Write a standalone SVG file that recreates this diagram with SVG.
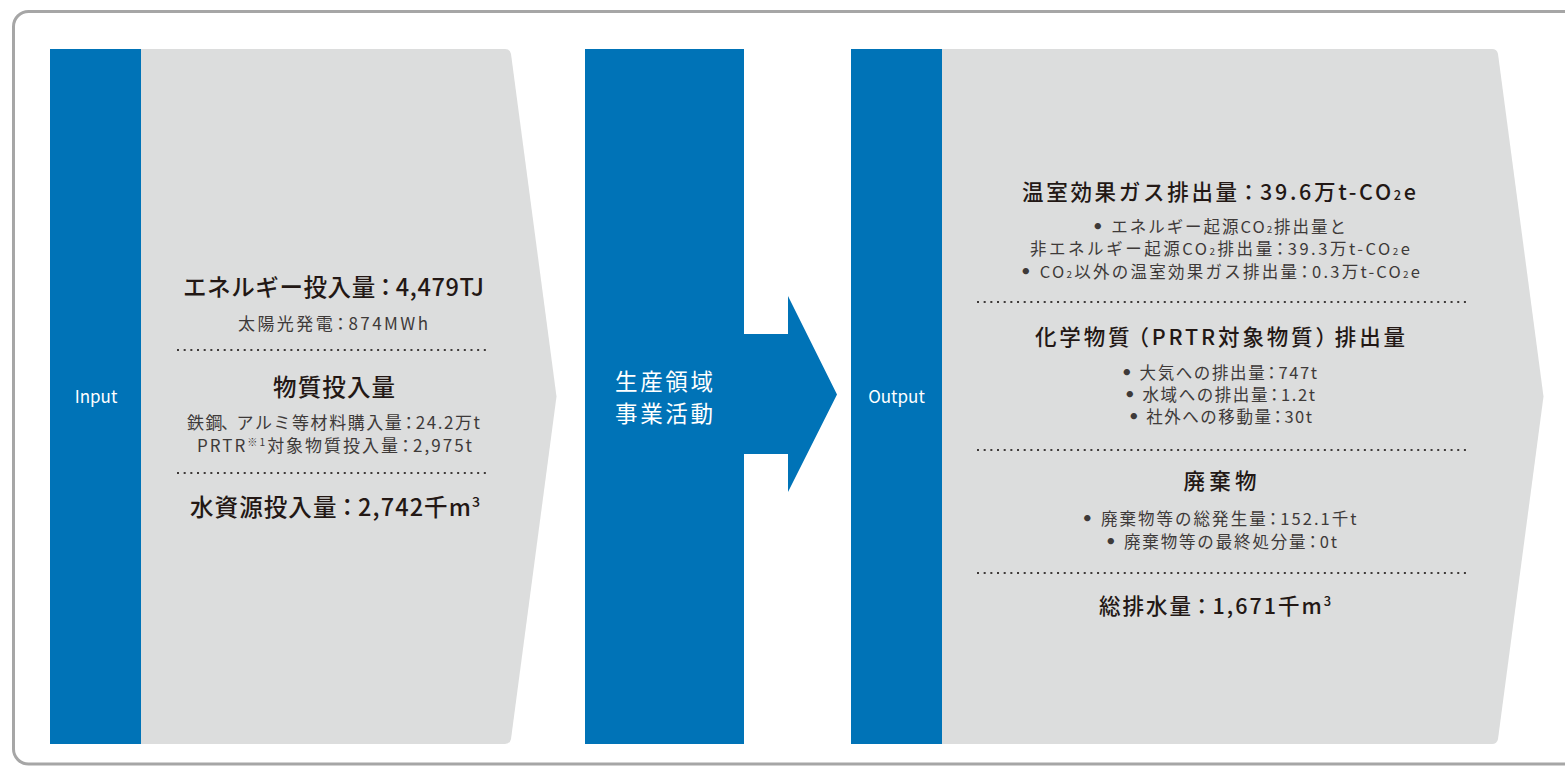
<svg xmlns="http://www.w3.org/2000/svg" width="1565" height="776" viewBox="0 0 1565 776">
<style>
  text { font-family: "Noto Sans CJK JP", "Noto Sans", sans-serif; }
  .blue { fill: #0073b7; }
  .panel { fill: #dcdddd; }
  .lbl { fill: #ffffff; font-size: 17px; text-anchor: middle; }
  .mid { fill: #ffffff; font-size: 22.5px; text-anchor: middle; }
  .h1 { fill: #231815; font-size: 23.5px; font-weight: 500; text-anchor: middle; }
  .h2 { fill: #231815; font-size: 21.5px; font-weight: 500; text-anchor: middle; }
  .s1 { fill: #3e3a39; font-size: 17px; text-anchor: middle; }
  .s2 { fill: #3e3a39; font-size: 16.5px; text-anchor: middle; }
  .dots { stroke: #3e3a39; stroke-width: 2; stroke-dasharray: 2 4.67; fill: none; }
  .sup { font-size: 60%; }
  .bul { font-family: "DejaVu Sans", sans-serif; font-weight: bold; font-size: 110%; }
</style>
<rect x="13.5" y="11.5" width="1600" height="752.5" rx="15" ry="15" fill="#ffffff" stroke="#a6a6a6" stroke-width="3"/>

<g id="input">
  <path class="panel" d="M141,49 H505 Q510,49 511,54 L556.5,396.5 L511,739 Q510,744 505,744 H141 Z"/>
  <rect class="blue" x="50" y="49" width="91" height="695"/>
  <text class="lbl" x="96" y="403">Input</text>
  <text class="h1" x="333.5" y="296" textLength="301" lengthAdjust="spacing">エネルギー投入量<tspan dx="-2">：</tspan><tspan dx="-2">4,479TJ</tspan></text>
  <text class="s1" x="333" y="329.5" textLength="190" lengthAdjust="spacing">太陽光発電<tspan dx="-3">：</tspan><tspan dx="-3">874MWh</tspan></text>
  <line class="dots" x1="177" y1="350" x2="488" y2="350"/>
  <text class="h1" x="334" y="396" textLength="122" lengthAdjust="spacing">物質投入量</text>
  <text class="s1" x="333.5" y="429" textLength="293" lengthAdjust="spacing">鉄鋼<tspan dx="-3">、</tspan><tspan dx="-3">アルミ等材料購入量</tspan><tspan dx="-3">：</tspan><tspan dx="-3">24.2万t</tspan></text>
  <text class="s1" x="334.5" y="452" textLength="275" lengthAdjust="spacing">PRTR<tspan class="sup" dy="-6">※1</tspan><tspan dy="6">対象物質投入量</tspan><tspan dx="-3">：</tspan><tspan dx="-3">2,975t</tspan></text>
  <line class="dots" x1="177" y1="473" x2="488" y2="473"/>
  <text class="h1" x="335" y="516" textLength="290" lengthAdjust="spacing">水資源投入量<tspan dx="-2">：</tspan><tspan dx="-2">2,742千m</tspan><tspan class="sup" dy="-9">3</tspan></text>
</g>

<g id="process">
  <rect class="blue" x="585" y="49" width="159" height="695"/>
  <text class="mid" x="664" y="389.5" textLength="98" lengthAdjust="spacing">生産領域</text>
  <text class="mid" x="664" y="421.5" textLength="98" lengthAdjust="spacing">事業活動</text>
</g>

<g id="connectors">
  <path class="blue" d="M743,334 H788 V296 L837,394.5 L788,492 V454 H743 Z"/>
</g>

<g id="output">
  <path class="panel" d="M942,49 H1492 Q1497,49 1498,54 L1543.5,396.5 L1498,739 Q1497,744 1492,744 H942 Z"/>
  <rect class="blue" x="851" y="49" width="91" height="695"/>
  <text class="lbl" x="896.5" y="403">Output</text>
  <text class="h2" x="1219" y="200" textLength="394" lengthAdjust="spacing">温室効果ガス排出量<tspan dx="-2">：</tspan><tspan dx="-2">39.6万t-CO</tspan><tspan class="sup">2</tspan>e</text>
  <text class="s2" x="1219" y="233" textLength="254" lengthAdjust="spacing"><tspan class="bul">•</tspan> エネルギー起源CO<tspan class="sup">2</tspan>排出量と</text>
  <text class="s2" x="1220" y="255" textLength="380" lengthAdjust="spacing">非エネルギー起源CO<tspan class="sup">2</tspan>排出量<tspan dx="-3">：</tspan><tspan dx="-3">39.3万t-CO</tspan><tspan class="sup">2</tspan>e</text>
  <text class="s2" x="1220" y="278" textLength="400" lengthAdjust="spacing"><tspan class="bul">•</tspan> CO<tspan class="sup">2</tspan>以外の温室効果ガス排出量<tspan dx="-3">：</tspan><tspan dx="-3">0.3万t-CO</tspan><tspan class="sup">2</tspan>e</text>
  <line class="dots" x1="977" y1="302" x2="1466" y2="302"/>
  <text class="h2" x="1220" y="345" textLength="370" lengthAdjust="spacing">化学物質<tspan dx="-5">（</tspan>PRTR対象物質）<tspan dx="-5">排出量</tspan></text>
  <text class="s2" x="1219" y="379" textLength="196" lengthAdjust="spacing"><tspan class="bul">•</tspan> 大気への排出量<tspan dx="-3">：</tspan><tspan dx="-3">747t</tspan></text>
  <text class="s2" x="1219.5" y="401" textLength="191" lengthAdjust="spacing"><tspan class="bul">•</tspan> 水域への排出量<tspan dx="-3">：</tspan><tspan dx="-3">1.2t</tspan></text>
  <text class="s2" x="1220" y="423" textLength="184" lengthAdjust="spacing"><tspan class="bul">•</tspan> 社外への移動量<tspan dx="-3">：</tspan><tspan dx="-3">30t</tspan></text>
  <line class="dots" x1="977" y1="450" x2="1466" y2="450"/>
  <text class="h2" x="1220" y="489" textLength="73" lengthAdjust="spacing">廃棄物</text>
  <text class="s2" x="1219" y="525" textLength="275" lengthAdjust="spacing"><tspan class="bul">•</tspan> 廃棄物等の総発生量<tspan dx="-3">：</tspan><tspan dx="-3">152.1千t</tspan></text>
  <text class="s2" x="1221" y="548" textLength="232" lengthAdjust="spacing"><tspan class="bul">•</tspan> 廃棄物等の最終処分量<tspan dx="-3">：</tspan><tspan dx="-3">0t</tspan></text>
  <line class="dots" x1="977" y1="573" x2="1466" y2="573"/>
  <text class="h2" x="1215" y="614" textLength="232" lengthAdjust="spacing">総排水量<tspan dx="-2">：</tspan><tspan dx="-2">1,671千m</tspan><tspan class="sup" dy="-8">3</tspan></text>
</g>
</svg>
